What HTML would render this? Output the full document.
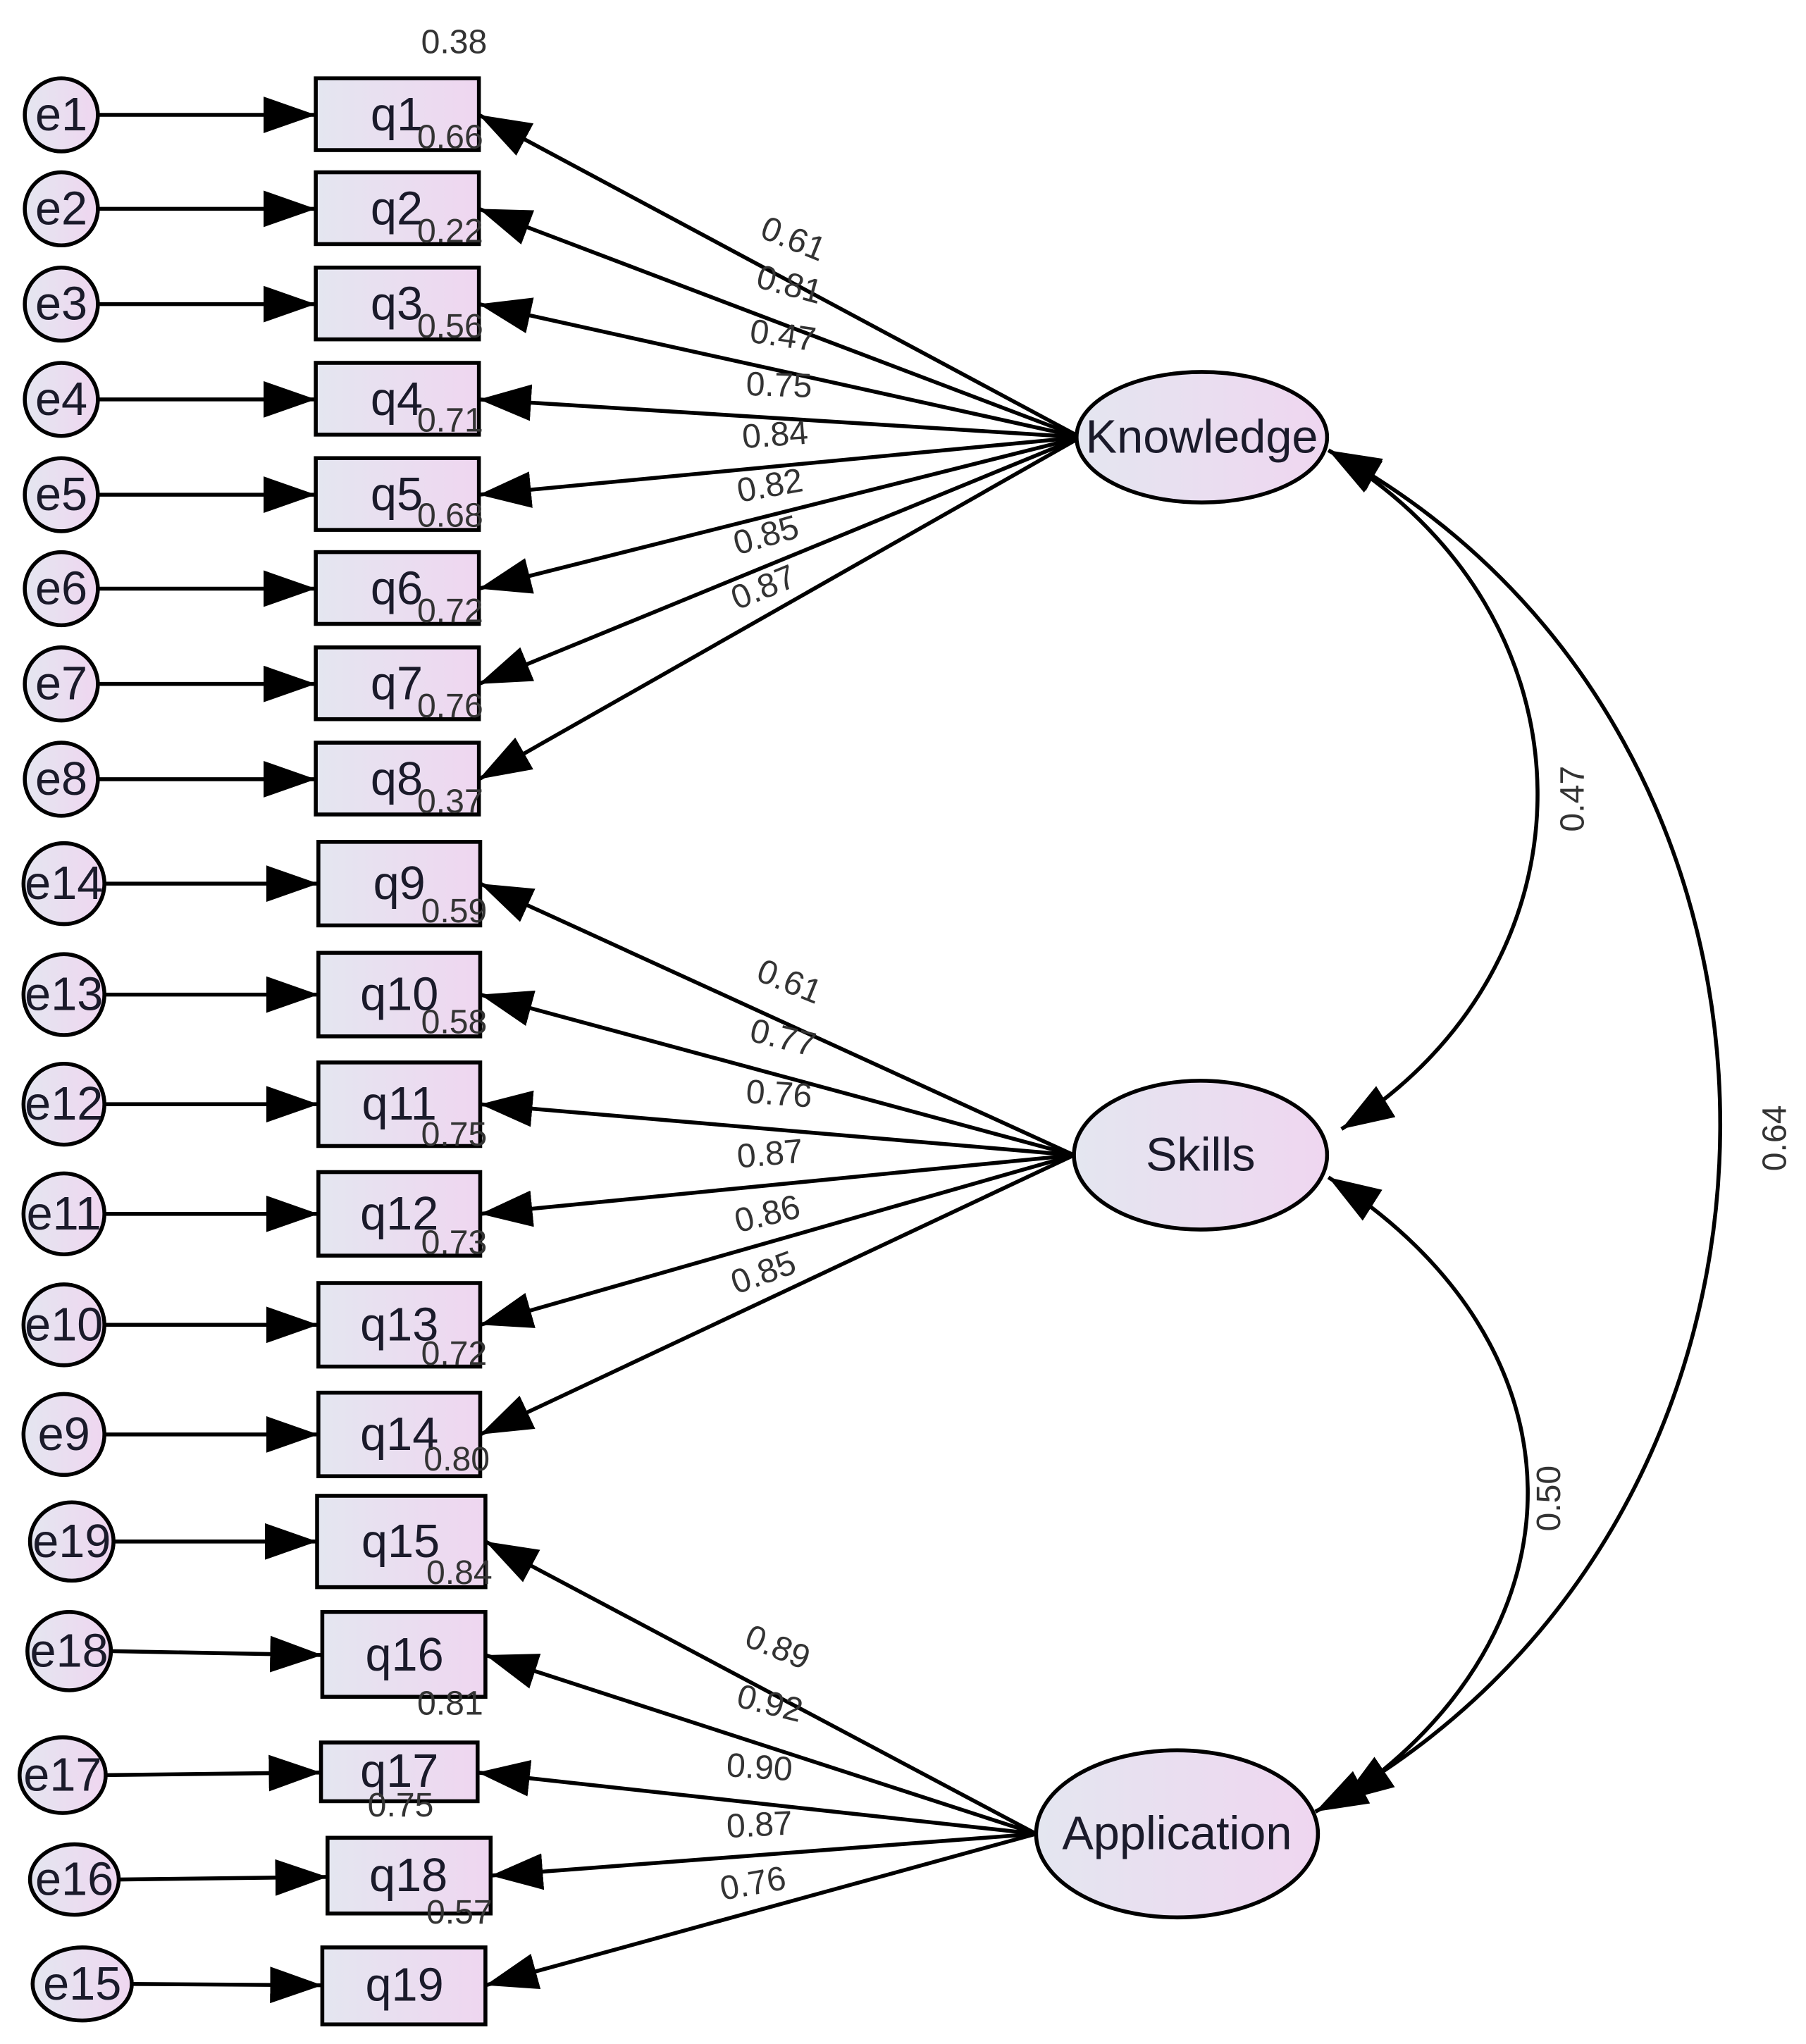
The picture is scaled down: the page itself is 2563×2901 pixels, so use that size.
<!DOCTYPE html>
<html><head><meta charset="utf-8"><style>
html,body{margin:0;padding:0;background:#fff;}
svg{display:block;}
text{font-family:"Liberation Sans",Arial,sans-serif;}
.n{font-size:36px;fill:#1a1a2a;text-anchor:middle;dominant-baseline:central;}
.v{font-size:26px;fill:#333;text-anchor:middle;dominant-baseline:central;}
</style></head><body>
<svg width="2563" height="2901" viewBox="0 0 1384 1566" preserveAspectRatio="none" xmlns="http://www.w3.org/2000/svg">
<defs>
<linearGradient id="g" x1="0" y1="0" x2="1" y2="0"><stop offset="0" stop-color="#e4e6f0"/><stop offset="1" stop-color="#efd6f0"/></linearGradient>
<marker id="a" markerUnits="userSpaceOnUse" markerWidth="40" markerHeight="28" refX="40" refY="14" orient="auto-start-reverse"><path d="M0,0 L40,14 L0,28 z" fill="#000"/></marker>
</defs>
<g stroke="#000" stroke-width="3" fill="none" marker-end="url(#a)">
<line x1="76" y1="88" x2="242" y2="88"/>
<line x1="76" y1="160" x2="242" y2="160"/>
<line x1="76" y1="233" x2="242" y2="233"/>
<line x1="76" y1="306" x2="242" y2="306"/>
<line x1="76" y1="379" x2="242" y2="379"/>
<line x1="76" y1="451" x2="242" y2="451"/>
<line x1="76" y1="524" x2="242" y2="524"/>
<line x1="76" y1="597" x2="242" y2="597"/>
<line x1="80" y1="677" x2="244" y2="677"/>
<line x1="80" y1="762" x2="244" y2="762"/>
<line x1="80" y1="846" x2="244" y2="846"/>
<line x1="80" y1="930" x2="244" y2="930"/>
<line x1="80" y1="1015" x2="244" y2="1015"/>
<line x1="80" y1="1099" x2="244" y2="1099"/>
<line x1="86" y1="1181" x2="243" y2="1181"/>
<line x1="84" y1="1265" x2="247" y2="1268"/>
<line x1="80" y1="1360" x2="246" y2="1358"/>
<line x1="90" y1="1440" x2="251" y2="1438"/>
<line x1="100" y1="1520" x2="247" y2="1521"/>
<line x1="828" y1="335" x2="367" y2="88"/>
<line x1="828" y1="335" x2="367" y2="160"/>
<line x1="828" y1="335" x2="367" y2="233"/>
<line x1="828" y1="335" x2="367" y2="306"/>
<line x1="828" y1="335" x2="367" y2="379"/>
<line x1="828" y1="335" x2="367" y2="451"/>
<line x1="828" y1="335" x2="367" y2="524"/>
<line x1="828" y1="335" x2="367" y2="597"/>
<line x1="823" y1="885" x2="368" y2="677"/>
<line x1="823" y1="885" x2="368" y2="762"/>
<line x1="823" y1="885" x2="368" y2="846"/>
<line x1="823" y1="885" x2="368" y2="930"/>
<line x1="823" y1="885" x2="368" y2="1015"/>
<line x1="823" y1="885" x2="368" y2="1099"/>
<line x1="794" y1="1405" x2="372" y2="1181"/>
<line x1="794" y1="1405" x2="372" y2="1268"/>
<line x1="794" y1="1405" x2="366" y2="1358"/>
<line x1="794" y1="1405" x2="376" y2="1437"/>
<line x1="794" y1="1405" x2="372" y2="1521"/>
<path d="M1018,345 C1230,470 1230,740 1028,865" marker-start="url(#a)"/>
<path d="M1018,345 C1420,560 1420,1170 1008,1388" marker-start="url(#a)"/>
<path d="M1018,902 C1220,1030 1220,1250 1028,1380" marker-start="url(#a)"/>
</g>
<g stroke="#000" stroke-width="3" fill="url(#g)">
<circle cx="47" cy="88" r="28"/><circle cx="47" cy="160" r="28"/><circle cx="47" cy="233" r="28"/><circle cx="47" cy="306" r="28"/>
<circle cx="47" cy="379" r="28"/><circle cx="47" cy="451" r="28"/><circle cx="47" cy="524" r="28"/><circle cx="47" cy="597" r="28"/>
<ellipse cx="49" cy="677" rx="31" ry="31"/><ellipse cx="49" cy="762" rx="31" ry="31"/><ellipse cx="49" cy="846" rx="31" ry="31"/>
<ellipse cx="49" cy="930" rx="31" ry="31"/><ellipse cx="49" cy="1015" rx="31" ry="31"/><ellipse cx="49" cy="1099" rx="31" ry="31"/>
<ellipse cx="55" cy="1181" rx="32" ry="30"/><ellipse cx="53" cy="1265" rx="32" ry="30"/><ellipse cx="48" cy="1360" rx="33" ry="29"/>
<ellipse cx="57" cy="1440" rx="34" ry="27"/><ellipse cx="63" cy="1520" rx="38" ry="28"/>
<rect x="242" y="60" width="125" height="55"/><rect x="242" y="132" width="125" height="55"/><rect x="242" y="205" width="125" height="55"/>
<rect x="242" y="278" width="125" height="55"/><rect x="242" y="351" width="125" height="55"/><rect x="242" y="423" width="125" height="55"/>
<rect x="242" y="496" width="125" height="55"/><rect x="242" y="569" width="125" height="55"/>
<rect x="244" y="645" width="124" height="64"/><rect x="244" y="730" width="124" height="64"/><rect x="244" y="814" width="124" height="64"/>
<rect x="244" y="898" width="124" height="64"/><rect x="244" y="983" width="124" height="64"/><rect x="244" y="1067" width="124" height="64"/>
<rect x="243" y="1146" width="129" height="70"/><rect x="247" y="1235" width="125" height="65"/><rect x="246" y="1335" width="120" height="45"/>
<rect x="251" y="1408" width="125" height="58"/><rect x="247" y="1492" width="125" height="59"/>
<ellipse cx="921" cy="335" rx="96" ry="50"/>
<ellipse cx="920" cy="885" rx="97" ry="57"/>
<ellipse cx="902" cy="1405" rx="108" ry="64"/>
</g>
<g class="n">
<text x="47" y="88">e1</text><text x="47" y="160">e2</text><text x="47" y="233">e3</text><text x="47" y="306">e4</text>
<text x="47" y="379">e5</text><text x="47" y="451">e6</text><text x="47" y="524">e7</text><text x="47" y="597">e8</text>
<text x="49" y="677">e14</text><text x="49" y="762">e13</text><text x="49" y="846">e12</text><text x="49" y="930">e11</text>
<text x="49" y="1015">e10</text><text x="49" y="1099">e9</text><text x="55" y="1181">e19</text><text x="53" y="1265">e18</text>
<text x="48" y="1360">e17</text><text x="57" y="1440">e16</text><text x="63" y="1520">e15</text>
<text x="304" y="88">q1</text><text x="304" y="160">q2</text><text x="304" y="233">q3</text><text x="304" y="306">q4</text>
<text x="304" y="379">q5</text><text x="304" y="451">q6</text><text x="304" y="524">q7</text><text x="304" y="597">q8</text>
<text x="306" y="677">q9</text><text x="306" y="762">q10</text><text x="306" y="846">q11</text><text x="306" y="930">q12</text>
<text x="306" y="1015">q13</text><text x="306" y="1099">q14</text><text x="307" y="1181">q15</text><text x="310" y="1268">q16</text>
<text x="306" y="1357">q17</text><text x="313" y="1437">q18</text><text x="310" y="1521">q19</text>
<text x="921" y="335">Knowledge</text><text x="920" y="885">Skills</text><text x="902" y="1405">Application</text>
</g>
<g class="v">
<text x="348" y="32">0.38</text><text x="345" y="105">0.66</text><text x="345" y="177">0.22</text><text x="345" y="250">0.56</text>
<text x="345" y="322">0.71</text><text x="345" y="395">0.68</text><text x="345" y="468">0.72</text><text x="345" y="541">0.76</text>
<text x="345" y="614">0.37</text><text x="348" y="698">0.59</text><text x="348" y="783">0.58</text><text x="348" y="869">0.75</text>
<text x="348" y="952">0.73</text><text x="348" y="1037">0.72</text><text x="350" y="1118">0.80</text><text x="352" y="1205">0.84</text>
<text x="345" y="1305">0.81</text><text x="307" y="1383">0.75</text><text x="352" y="1465">0.57</text>
<text transform="translate(608,183) rotate(22)">0.61</text>
<text transform="translate(605,218) rotate(15)">0.81</text>
<text transform="translate(600,257) rotate(8)">0.47</text>
<text transform="translate(597,295) rotate(2)">0.75</text>
<text transform="translate(594,333) rotate(-4)">0.84</text>
<text transform="translate(590,372) rotate(-10)">0.82</text>
<text transform="translate(587,410) rotate(-16)">0.85</text>
<text transform="translate(585,450) rotate(-22)">0.87</text>
<text transform="translate(605,752) rotate(22)">0.61</text>
<text transform="translate(600,795) rotate(14)">0.77</text>
<text transform="translate(597,838) rotate(4)">0.76</text>
<text transform="translate(590,884) rotate(-5)">0.87</text>
<text transform="translate(588,930) rotate(-14)">0.86</text>
<text transform="translate(585,975) rotate(-20)">0.85</text>
<text transform="translate(596,1262) rotate(22)">0.89</text>
<text transform="translate(590,1305) rotate(14)">0.92</text>
<text transform="translate(582,1354) rotate(4)">0.90</text>
<text transform="translate(582,1398) rotate(-3)">0.87</text>
<text transform="translate(577,1443) rotate(-10)">0.76</text>
<text transform="translate(1205,612) rotate(-90)">0.47</text>
<text transform="translate(1360,872) rotate(-90)">0.64</text>
<text transform="translate(1187,1148) rotate(-90)">0.50</text>
</g>
</svg>
</body></html>
